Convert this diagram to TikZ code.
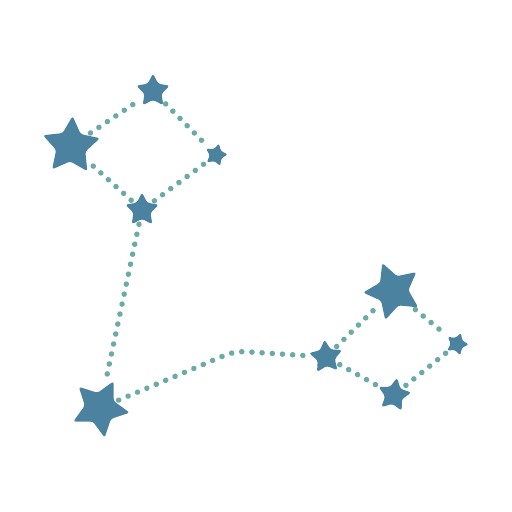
\documentclass[tikz,border=0pt]{standalone}
\usepackage{tikz}
\usetikzlibrary{
	shapes.geometric,
	positioning
}
\definecolor{starblue}{HTML}{4A82A0}
\definecolor{dotteal}{HTML}{6BAAA6}
\tikzset{
	x=1pt, y=-1pt,
	every star/.style={
		star, star points=5, star point ratio=1.95,
		fill=starblue, draw=none, inner sep=0pt,
		rounded corners=2.5pt
	},
	bigstar/.style={every star, minimum size=60pt},
	midstar/.style={every star, minimum size=35pt},
	smallstar/.style={every star, minimum size=24pt},
	dotline/.style={
		draw=dotteal, line width=5.5pt, line cap=round,
		dash pattern=on 0.1pt off 10.1pt,
		shorten <=4pt, shorten >=4pt
	}
}
\begin{document}
\begin{tikzpicture}
	\useasboundingbox (0,0) rectangle (512,512);
	\draw
		node [bigstar,rotate=-3]    (a)  at (71,146)  {}
		node [midstar]              (b)  at (153,91)  {}
		node [smallstar,rotate=-15] (c)  at (216,155) {}
		node [midstar]              (d)  at (142,210) {}
		node [bigstar,rotate=-27]   (e)  at (100,408) {}
		node [midstar,rotate=5]     (g)  at (326,357) {}
		node [bigstar,rotate=21]    (h)  at (393,291) {}
		node [smallstar,rotate=-20] (i)  at (457,344) {}
		node [midstar,rotate=-10]   (j)  at (394,395) {}
	;
	\coordinate (bend) at (235,351);

	\path[dotline] (a) -- (b);
	\path[dotline] (b) -- (c);
	\path[dotline] (c) -- (d);
	\path[dotline] (d) -- (a);
	\path[dotline] (d) -- (e);
	\path[dotline,rounded corners=10pt] (e) -- (bend) -- (g);
	\path[dotline] (g) -- (h);
	\path[dotline] (h) -- (i);
	\path[dotline] (i) -- (j);
	\path[dotline] (j) -- (g);
\end{tikzpicture}
\end{document}
